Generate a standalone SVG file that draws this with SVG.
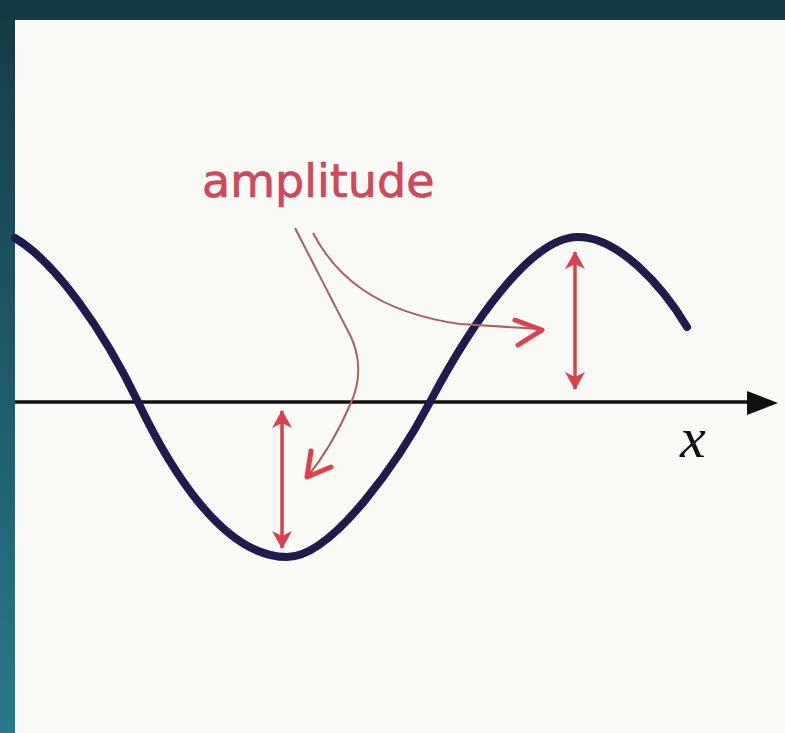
<svg xmlns="http://www.w3.org/2000/svg" width="785" height="733" viewBox="0 0 785 733">
  <defs>
    <linearGradient id="side" x1="0" y1="0" x2="0" y2="1">
      <stop offset="0" stop-color="#143a45"/>
      <stop offset="1" stop-color="#28798b"/>
    </linearGradient>
    <marker id="redHead" markerUnits="userSpaceOnUse" markerWidth="18" markerHeight="20" viewBox="0 0 18 20" refX="17" refY="10" orient="auto-start-reverse">
      <path d="M0,0 L18,10 L0,20 L5,10 z" fill="#d9414f"/>
    </marker>
  </defs>
  <style>
    .wave{fill:none;stroke:#1f1b4f;stroke-width:8;stroke-linecap:round;stroke-linejoin:round}
    .axis{fill:none;stroke:#111;stroke-width:3.5}
    .amp{fill:none;stroke:#d9414f;stroke-width:3.5;marker-start:url(#redHead);marker-end:url(#redHead)}
    .pointer{fill:none;stroke:#a8625e;stroke-width:2}
    .chev{fill:none;stroke:#e0404c;stroke-width:5;stroke-linecap:round;stroke-linejoin:round}
    .label{font-family:"DejaVu Sans",sans-serif;font-size:46px;fill:#d8465c;stroke:#b83a50;stroke-width:0.6}
    .xlabel{font-family:"Liberation Serif",serif;font-style:italic;font-size:58px;fill:#111}
  </style>

  <rect x="0" y="0" width="785" height="733" fill="url(#side)"/>
  <rect x="0" y="0" width="785" height="20" fill="#143a45"/>
  <rect x="15" y="20" width="770" height="713" fill="#fafbf6"/>

  <g id="axis">
    <line class="axis" x1="15" y1="402" x2="752" y2="402"/>
    <path d="M747,391 L778,403 L747,415 z" fill="#111"/>
    <text class="xlabel" x="680" y="457">x</text>
  </g>

  <g id="wave">
    <path class="wave" d="M15,238 C55,262 103,329 138,402 C168,465 222,557 287,557 C333,557 400,459 430,402 C470,326 530,237 578,237 C618,237 662,285 687,327"/>
  </g>

  <g id="amplitude-arrows">
    <line class="amp" x1="282" y1="411" x2="282" y2="548"/>
    <line class="amp" x1="575" y1="252" x2="575" y2="389"/>
  </g>

  <g id="label">
    <text class="label" x="202" y="197">amplitude</text>
  </g>

  <g id="connectors">
    <path class="pointer" d="M313,233 C335,275 375,312 460,324 L540,329"/>
    <polyline class="chev" points="515,320 542,330 518,345"/>
    <path class="pointer" d="M295,228 L350,335 C360,355 362,380 350,405 C340,428 325,455 308,476"/>
    <polyline class="chev" points="311,451 307,477 331,467"/>
  </g>
</svg>
